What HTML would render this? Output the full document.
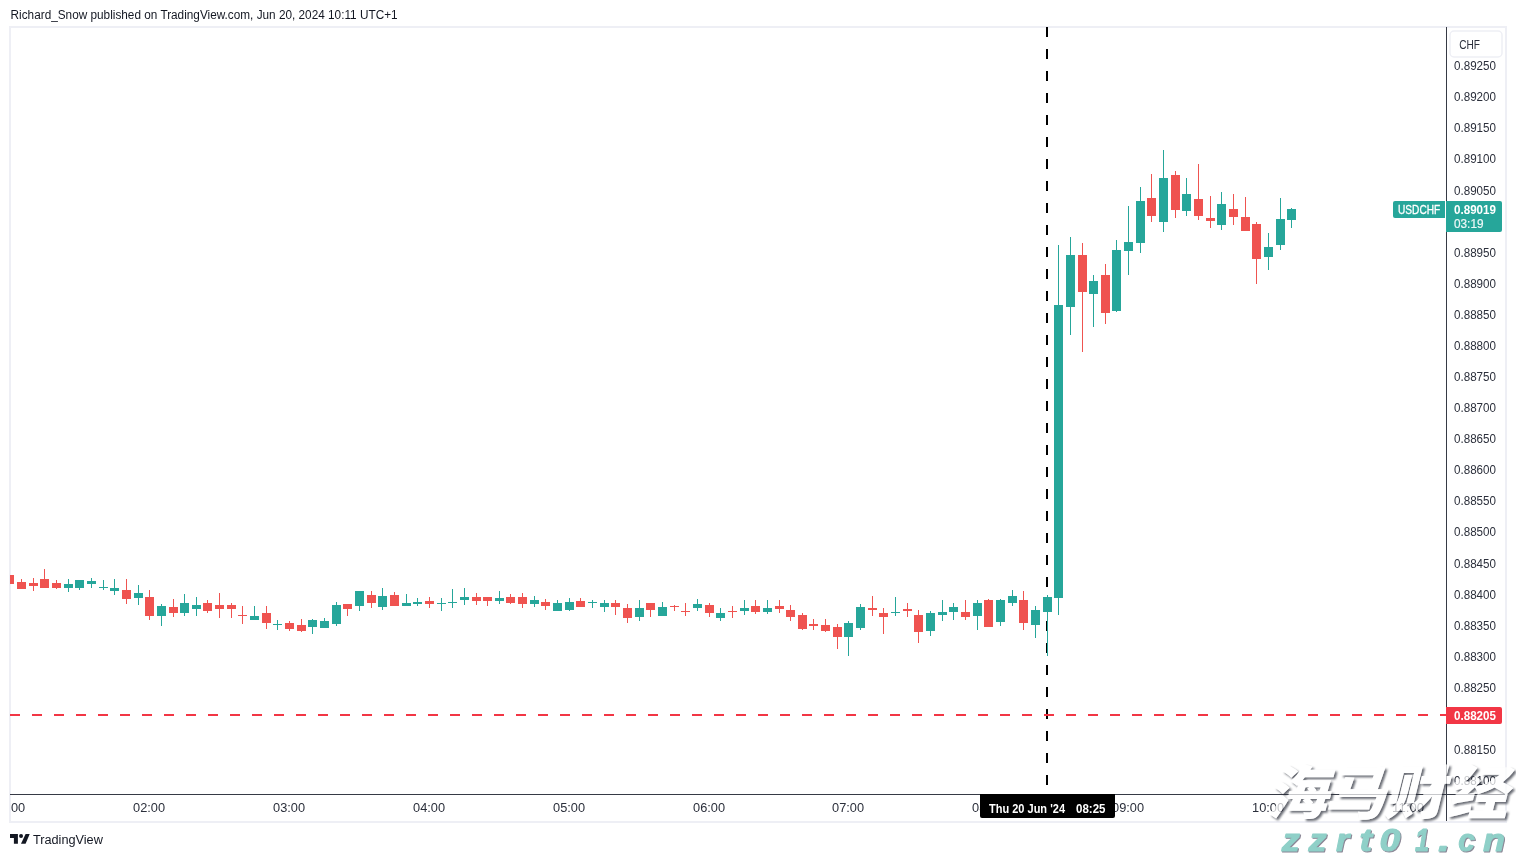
<!DOCTYPE html>
<html lang="en"><head><meta charset="utf-8"><title>USDCHF chart</title>
<style>
html,body{margin:0;padding:0;background:#fff;}
body{width:1516px;height:857px;overflow:hidden;position:relative;font-family:"Liberation Sans", sans-serif;}
svg{position:absolute;left:0;top:0;display:block;}
svg text{font-family:"Liberation Sans", sans-serif;}
.ax{font-size:12px;fill:#2b2f3b;}
</style></head><body>
<svg width="1516" height="857" viewBox="0 0 1516 857">
<defs><clipPath id="pane"><rect x="10" y="27" width="1436" height="767"/></clipPath>
<clipPath id="taxis"><rect x="10" y="795" width="1436" height="26"/></clipPath>
<filter id="wmf" x="1250" y="750" width="280" height="90" filterUnits="userSpaceOnUse" color-interpolation-filters="sRGB"><feGaussianBlur in="SourceAlpha" stdDeviation="0.9" result="b"/><feOffset in="b" dx="1.6" dy="1.6" result="o"/><feFlood flood-color="#2a2e39" flood-opacity="0.7" result="c"/><feComposite in="c" in2="o" operator="in" result="sh"/><feComposite in="sh" in2="SourceAlpha" operator="out" result="sho"/><feFlood flood-color="#ffffff" flood-opacity="0.72" result="w"/><feComposite in="w" in2="SourceAlpha" operator="in" result="wf"/><feMerge><feMergeNode in="sho"/><feMergeNode in="wf"/></feMerge></filter></defs>
<text x="10.6" y="18.8" font-size="12" fill="#131722" textLength="387" lengthAdjust="spacingAndGlyphs">Richard_Snow published on TradingView.com, Jun 20, 2024 10:11 UTC+1</text>
<rect x="10" y="27" width="1496" height="795" fill="none" stroke="#eeeff5" stroke-width="2"/>
<g clip-path="url(#pane)" shape-rendering="crispEdges">
<line x1="1047" y1="27" x2="1047" y2="794" stroke="#000" stroke-width="2" stroke-dasharray="10 12"/>
<line x1="10" y1="715" x2="1446" y2="715" stroke="#f23645" stroke-width="2" stroke-dasharray="10 12"/>
<path fill="#ef5350" d="M9 575h1v9h-1zM5 575h9v9h-9zM21 579h1v10h-1zM17 582h9v7h-9zM33 578h1v13h-1zM29 583h9v3h-9zM44 569h1v19h-1zM40 579h9v9h-9zM56 580h1v9h-1zM52 583h9v5h-9zM126 579h1v25h-1zM122 590h9v9h-9zM149 590h1v30h-1zM145 597h9v19h-9zM173 599h1v18h-1zM169 607h9v6h-9zM207 600h1v13h-1zM203 603h9v8h-9zM219 593h1v25h-1zM215 605h9v4h-9zM231 603h1v15h-1zM227 605h9v4h-9zM242 606h1v18h-1zM238 615h9v1h-9zM266 606h1v23h-1zM262 613h9v10h-9zM289 621h1v10h-1zM285 623h9v6h-9zM301 619h1v13h-1zM297 625h9v6h-9zM347 604h1v12h-1zM343 604h9v5h-9zM371 591h1v17h-1zM367 595h9v8h-9zM394 592h1v14h-1zM390 595h9v11h-9zM429 597h1v11h-1zM425 601h9v3h-9zM476 593h1v12h-1zM472 597h9v4h-9zM487 597h1v9h-1zM483 597h9v4h-9zM510 594h1v10h-1zM506 597h9v6h-9zM522 593h1v15h-1zM518 597h9v7h-9zM545 599h1v11h-1zM541 602h9v4h-9zM580 598h1v9h-1zM576 601h9v6h-9zM615 600h1v15h-1zM611 603h9v4h-9zM627 604h1v19h-1zM623 608h9v10h-9zM650 603h1v14h-1zM646 603h9v7h-9zM674 605h1v6h-1zM670 606h9v1h-9zM685 603h1v13h-1zM681 611h9v1h-9zM709 603h1v14h-1zM705 605h9v8h-9zM732 606h1v12h-1zM728 611h9v1h-9zM755 600h1v14h-1zM751 606h9v6h-9zM779 600h1v13h-1zM775 606h9v3h-9zM790 605h1v16h-1zM786 610h9v7h-9zM802 613h1v17h-1zM798 615h9v14h-9zM813 619h1v11h-1zM809 624h9v2h-9zM825 619h1v13h-1zM821 625h9v6h-9zM837 624h1v25h-1zM833 627h9v10h-9zM872 596h1v20h-1zM868 608h9v2h-9zM883 608h1v26h-1zM879 613h9v4h-9zM907 603h1v14h-1zM903 609h9v2h-9zM918 610h1v33h-1zM914 615h9v17h-9zM965 600h1v20h-1zM961 612h9v5h-9zM988 599h1v28h-1zM984 600h9v27h-9zM1023 591h1v39h-1zM1019 600h9v23h-9zM1082 243h1v109h-1zM1078 255h9v37h-9zM1105 264h1v60h-1zM1101 275h9v38h-9zM1151 174h1v48h-1zM1147 198h9v18h-9zM1175 171h1v47h-1zM1171 175h9v35h-9zM1198 164h1v56h-1zM1194 199h9v17h-9zM1210 196h1v32h-1zM1206 218h9v3h-9zM1233 194h1v31h-1zM1229 209h9v8h-9zM1245 197h1v34h-1zM1241 217h9v14h-9zM1256 222h1v62h-1zM1252 224h9v35h-9z"/>
<path fill="#26a69a" d="M68 579h1v13h-1zM64 584h9v4h-9zM79 580h1v10h-1zM75 580h9v8h-9zM91 578h1v10h-1zM87 581h9v3h-9zM103 580h1v10h-1zM99 587h9v1h-9zM114 579h1v16h-1zM110 588h9v3h-9zM138 585h1v20h-1zM134 593h9v5h-9zM161 604h1v22h-1zM157 606h9v10h-9zM184 594h1v22h-1zM180 603h9v10h-9zM196 597h1v19h-1zM192 605h9v4h-9zM254 606h1v14h-1zM250 616h9v4h-9zM277 620h1v10h-1zM273 624h9v1h-9zM312 619h1v15h-1zM308 620h9v7h-9zM324 618h1v10h-1zM320 621h9v7h-9zM336 602h1v24h-1zM332 605h9v19h-9zM359 591h1v20h-1zM355 591h9v15h-9zM382 588h1v22h-1zM378 596h9v11h-9zM406 594h1v12h-1zM402 603h9v3h-9zM417 598h1v8h-1zM413 602h9v2h-9zM441 598h1v13h-1zM437 603h9v1h-9zM452 589h1v19h-1zM448 602h9v1h-9zM464 588h1v17h-1zM460 597h9v3h-9zM499 591h1v13h-1zM495 598h9v3h-9zM534 596h1v11h-1zM530 600h9v4h-9zM557 600h1v11h-1zM553 603h9v8h-9zM569 598h1v13h-1zM565 602h9v8h-9zM592 600h1v8h-1zM588 602h9v1h-9zM604 600h1v12h-1zM600 603h9v4h-9zM639 600h1v21h-1zM635 608h9v9h-9zM662 602h1v14h-1zM658 607h9v9h-9zM697 599h1v12h-1zM693 604h9v4h-9zM720 608h1v13h-1zM716 613h9v5h-9zM744 600h1v15h-1zM740 608h9v3h-9zM767 600h1v14h-1zM763 608h9v4h-9zM848 621h1v35h-1zM844 623h9v14h-9zM860 604h1v26h-1zM856 607h9v21h-9zM895 597h1v19h-1zM891 612h9v1h-9zM930 611h1v25h-1zM926 613h9v18h-9zM942 600h1v21h-1zM938 612h9v3h-9zM953 603h1v17h-1zM949 607h9v5h-9zM977 600h1v30h-1zM973 603h9v13h-9zM1000 599h1v27h-1zM996 600h9v22h-9zM1012 590h1v16h-1zM1008 596h9v7h-9zM1035 606h1v32h-1zM1031 610h9v15h-9zM1047 595h1v61h-1zM1043 597h9v15h-9zM1058 245h1v370h-1zM1054 305h9v293h-9zM1070 237h1v98h-1zM1066 255h9v52h-9zM1093 275h1v52h-1zM1089 281h9v13h-9zM1116 240h1v72h-1zM1112 250h9v61h-9zM1128 206h1v69h-1zM1124 242h9v9h-9zM1140 187h1v66h-1zM1136 201h9v42h-9zM1163 150h1v82h-1zM1159 178h9v44h-9zM1186 178h1v38h-1zM1182 194h9v17h-9zM1221 192h1v38h-1zM1217 204h9v21h-9zM1268 233h1v37h-1zM1264 247h9v10h-9zM1280 198h1v52h-1zM1276 219h9v26h-9zM1291 208h1v20h-1zM1287 209h9v11h-9z"/>
</g>
<g shape-rendering="crispEdges">
<rect x="1446" y="27" width="1" height="794" fill="#363a45"/>
<rect x="10" y="794" width="1495" height="1" fill="#363a45"/>
</g>
<text class="ax" x="1454" y="70.2" textLength="42" lengthAdjust="spacingAndGlyphs">0.89250</text>
<text class="ax" x="1454" y="101.2" textLength="42" lengthAdjust="spacingAndGlyphs">0.89200</text>
<text class="ax" x="1454" y="132.3" textLength="42" lengthAdjust="spacingAndGlyphs">0.89150</text>
<text class="ax" x="1454" y="163.4" textLength="42" lengthAdjust="spacingAndGlyphs">0.89100</text>
<text class="ax" x="1454" y="194.5" textLength="42" lengthAdjust="spacingAndGlyphs">0.89050</text>
<text class="ax" x="1454" y="225.6" textLength="42" lengthAdjust="spacingAndGlyphs">0.89000</text>
<text class="ax" x="1454" y="256.7" textLength="42" lengthAdjust="spacingAndGlyphs">0.88950</text>
<text class="ax" x="1454" y="287.7" textLength="42" lengthAdjust="spacingAndGlyphs">0.88900</text>
<text class="ax" x="1454" y="318.8" textLength="42" lengthAdjust="spacingAndGlyphs">0.88850</text>
<text class="ax" x="1454" y="349.9" textLength="42" lengthAdjust="spacingAndGlyphs">0.88800</text>
<text class="ax" x="1454" y="381.0" textLength="42" lengthAdjust="spacingAndGlyphs">0.88750</text>
<text class="ax" x="1454" y="412.1" textLength="42" lengthAdjust="spacingAndGlyphs">0.88700</text>
<text class="ax" x="1454" y="443.2" textLength="42" lengthAdjust="spacingAndGlyphs">0.88650</text>
<text class="ax" x="1454" y="474.3" textLength="42" lengthAdjust="spacingAndGlyphs">0.88600</text>
<text class="ax" x="1454" y="505.3" textLength="42" lengthAdjust="spacingAndGlyphs">0.88550</text>
<text class="ax" x="1454" y="536.4" textLength="42" lengthAdjust="spacingAndGlyphs">0.88500</text>
<text class="ax" x="1454" y="567.5" textLength="42" lengthAdjust="spacingAndGlyphs">0.88450</text>
<text class="ax" x="1454" y="598.6" textLength="42" lengthAdjust="spacingAndGlyphs">0.88400</text>
<text class="ax" x="1454" y="629.7" textLength="42" lengthAdjust="spacingAndGlyphs">0.88350</text>
<text class="ax" x="1454" y="660.8" textLength="42" lengthAdjust="spacingAndGlyphs">0.88300</text>
<text class="ax" x="1454" y="691.9" textLength="42" lengthAdjust="spacingAndGlyphs">0.88250</text>
<text class="ax" x="1454" y="722.9" textLength="42" lengthAdjust="spacingAndGlyphs">0.88200</text>
<text class="ax" x="1454" y="754.0" textLength="42" lengthAdjust="spacingAndGlyphs">0.88150</text>
<text class="ax" x="1454" y="785.1" textLength="42" lengthAdjust="spacingAndGlyphs">0.88100</text>
<rect x="1450" y="31" width="52" height="26" rx="4" ry="4" fill="#fff" stroke="#eeeff5" stroke-width="1.5"/>
<text class="ax" x="1459.2" y="48.8" textLength="20.8" lengthAdjust="spacingAndGlyphs">CHF</text>
<path fill="#26a69a" d="M1395 201H1445V218H1395a2 2 0 0 1-2-2V203a2 2 0 0 1 2-2z"/>
<text x="1398" y="213.6" font-size="12" fill="#fff" stroke="#fff" stroke-width="0.3" textLength="42.2" lengthAdjust="spacingAndGlyphs">USDCHF</text>
<path fill="#26a69a" d="M1446 201H1500a2 2 0 0 1 2 2V230a2 2 0 0 1-2 2H1446z"/>
<text x="1454" y="213.5" font-size="12" font-weight="bold" fill="#fff" textLength="42" lengthAdjust="spacingAndGlyphs">0.89019</text>
<text x="1454" y="227.7" font-size="12" fill="#fff" fill-opacity="0.9" stroke="#fff" stroke-opacity="0.9" stroke-width="0.2" textLength="29.5" lengthAdjust="spacingAndGlyphs">03:19</text>
<path fill="#f23645" d="M1446 707H1500a2 2 0 0 1 2 2V722a2 2 0 0 1-2 2H1446z"/>
<text x="1454" y="720" font-size="12" font-weight="bold" fill="#fff" textLength="42" lengthAdjust="spacingAndGlyphs">0.88205</text>
<g clip-path="url(#taxis)">
<text class="ax" x="9.1" y="812.2" text-anchor="middle" textLength="32" lengthAdjust="spacingAndGlyphs">01:00</text>
<text class="ax" x="149.1" y="812.2" text-anchor="middle" textLength="32" lengthAdjust="spacingAndGlyphs">02:00</text>
<text class="ax" x="289.1" y="812.2" text-anchor="middle" textLength="32" lengthAdjust="spacingAndGlyphs">03:00</text>
<text class="ax" x="429.1" y="812.2" text-anchor="middle" textLength="32" lengthAdjust="spacingAndGlyphs">04:00</text>
<text class="ax" x="569.1" y="812.2" text-anchor="middle" textLength="32" lengthAdjust="spacingAndGlyphs">05:00</text>
<text class="ax" x="709.1" y="812.2" text-anchor="middle" textLength="32" lengthAdjust="spacingAndGlyphs">06:00</text>
<text class="ax" x="848.1" y="812.2" text-anchor="middle" textLength="32" lengthAdjust="spacingAndGlyphs">07:00</text>
<text class="ax" x="988.1" y="812.2" text-anchor="middle" textLength="32" lengthAdjust="spacingAndGlyphs">08:00</text>
<text class="ax" x="1128.1" y="812.2" text-anchor="middle" textLength="32" lengthAdjust="spacingAndGlyphs">09:00</text>
<text class="ax" x="1268.1" y="812.2" text-anchor="middle" textLength="32" lengthAdjust="spacingAndGlyphs">10:00</text>
<text class="ax" x="1408.1" y="812.2" text-anchor="middle" textLength="32" lengthAdjust="spacingAndGlyphs">11:00</text>
</g>
<path fill="#000" d="M980 794H1115V816a2 2 0 0 1-2 2H982a2 2 0 0 1-2-2z"/>
<text x="989" y="813" font-size="12" font-weight="bold" fill="#fff" textLength="76" lengthAdjust="spacingAndGlyphs">Thu 20 Jun '24</text>
<text x="1076" y="813" font-size="12" font-weight="bold" fill="#fff" textLength="29.5" lengthAdjust="spacingAndGlyphs">08:25</text>
<g fill="#131722">
<path d="M10 834.1H17.9V843.8H13.9V837.9H10z"/>
<circle cx="21.05" cy="836.1" r="2"/>
<path d="M25.6 834.1H29.7L25.6 843.8H21z"/>
</g>
<text x="32.9" y="843.8" font-size="12.5" fill="#131722" textLength="70" lengthAdjust="spacingAndGlyphs">TradingView</text>
<g filter="url(#wmf)"><g transform="translate(0 814) skewX(-14) translate(0 -814)">
<text transform="scale(1.060 1)" x="1194.3 1249.1 1304.7 1364.2" y="814" font-size="58" fill="#fff" style="font-family:&quot;Liberation Sans&quot;,&quot;Noto Sans CJK SC&quot;,sans-serif;font-weight:900">海马财经</text>
</g></g>
<text y="851" font-size="32" font-weight="bold" font-style="italic" fill="#8fd0c8" stroke="#8fd0c8" stroke-width="1" stroke-linejoin="round" style="filter:drop-shadow(1px 1px 0.35px rgba(100,95,115,.75))"><tspan x="1281.7" textLength="18.08" lengthAdjust="spacingAndGlyphs">z</tspan><tspan x="1308.5" textLength="18.08" lengthAdjust="spacingAndGlyphs">z</tspan><tspan x="1336.0" textLength="13.20" lengthAdjust="spacingAndGlyphs">r</tspan><tspan x="1359.5" textLength="12.53" lengthAdjust="spacingAndGlyphs">t</tspan><tspan x="1379.6" textLength="20.77" lengthAdjust="spacingAndGlyphs">0</tspan><tspan x="1414.9" textLength="14.15" lengthAdjust="spacingAndGlyphs">1</tspan><tspan x="1437.9" textLength="12.00" lengthAdjust="spacingAndGlyphs">.</tspan><tspan x="1458.2" textLength="16.61" lengthAdjust="spacingAndGlyphs">c</tspan><tspan x="1482.9" textLength="21.99" lengthAdjust="spacingAndGlyphs">n</tspan></text>
</svg>
</body></html>
